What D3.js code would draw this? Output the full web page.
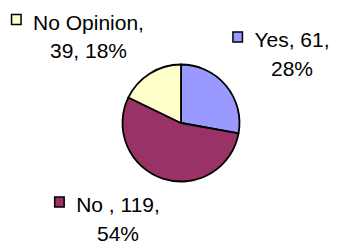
<!DOCTYPE html>
<html>
<head>
<meta charset="utf-8">
<script src="https://cdn.jsdelivr.net/npm/d3@7"></script>
<style>
  body { margin: 0; background: #fff; }
  svg { display: block; }
  .etiqueta { font-family: 'Liberation Sans', Arial, sans-serif; font-size: 21px; fill: #000; }
</style>
</head>
<body>
<div id="graf"></div>
<script>
// datos del grafico
var categorias = ['Yes', 'No ', 'No Opinion']
var valores = [61, 119, 39]
var porcentajes = ['28%', '54%', '18%']
var colores = ['#9999ff', '#993366', '#ffffcc']
// cuantas partes van en la primera linea de cada etiqueta
var cortes = [2, 2, 1]

var ancho_total = 339, alto_total = 249
var centro = { x: 181, y: 123 }
var radio = 58.5
// centro del texto de cada etiqueta (primera linea, linea base)
var posEtiquetas = [
  { x: 292, y: 47 },
  { x: 118, y: 212 },
  { x: 88.5, y: 29.5 }
]
var interlinea = 28.5

var svg = d3.select('#graf').append('svg')
  .attr('width', ancho_total)
  .attr('height', alto_total)

var datos = categorias.map((c, i) => ({ cat: c, valor: valores[i], pct: porcentajes[i], color: colores[i], corte: cortes[i], pos: posEtiquetas[i] }))

var pie = d3.pie().value(d => d.valor).sort(null)
var arc = d3.arc().innerRadius(0).outerRadius(radio)

var g = svg.append('g')
  .attr('transform', `translate(${centro.x}, ${centro.y})`)

g.selectAll('path')
  .data(pie(datos))
  .enter()
  .append('path')
    .attr('d', arc)
    .attr('fill', d => d.data.color)
    .attr('stroke', '#000')
    .attr('stroke-width', 1.8)
    .attr('stroke-linejoin', 'round')

// etiquetas con su cuadrito de leyenda
var etiquetas = svg.selectAll('g.etq')
  .data(datos)
  .enter()
  .append('g')
    .attr('class', 'etq')

etiquetas.each(function(d) {
  var partes = [d.cat, d.valor, d.pct]
  var linea1 = partes.slice(0, d.corte).join(', ') + ','
  var linea2 = partes.slice(d.corte).join(', ')
  var grp = d3.select(this)

  var t1 = grp.append('text')
    .attr('class', 'etiqueta')
    .attr('x', d.pos.x)
    .attr('y', d.pos.y)
    .attr('text-anchor', 'middle')
    .text(linea1)

  grp.append('text')
    .attr('class', 'etiqueta')
    .attr('x', d.pos.x)
    .attr('y', d.pos.y + interlinea)
    .attr('text-anchor', 'middle')
    .text(linea2)

  var w = t1.node().getComputedTextLength()
  var x0 = d.pos.x - w / 2
  grp.append('rect')
    .attr('x', x0 - 21.5)
    .attr('y', d.pos.y - 15)
    .attr('width', 9.5)
    .attr('height', 10)
    .attr('fill', d.color)
    .attr('stroke', '#000')
    .attr('stroke-width', 1.5)
})
</script>
</body>
</html>
